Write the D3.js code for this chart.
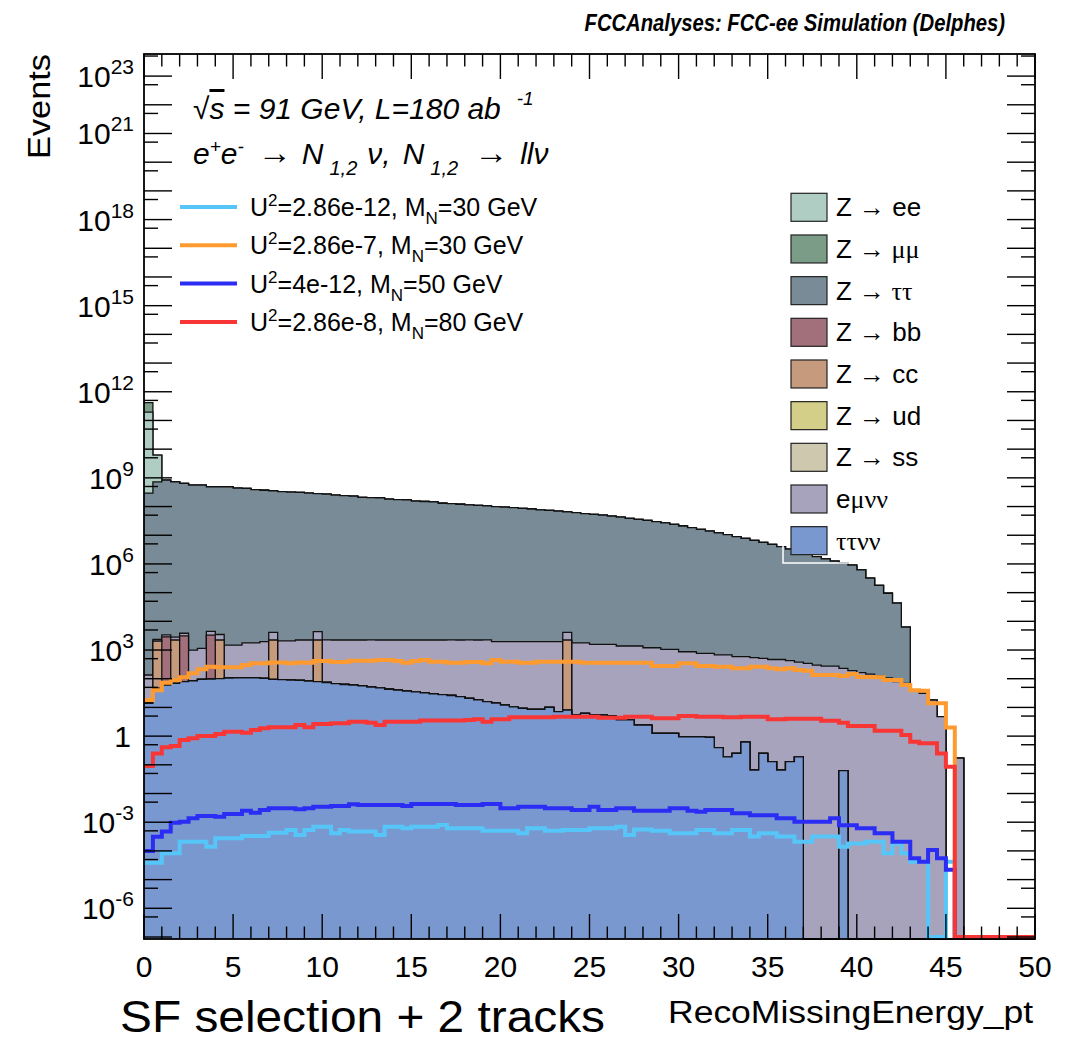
<!DOCTYPE html>
<html>
<head>
<meta charset="utf-8">
<script src="https://cdn.jsdelivr.net/npm/d3@7"></script>
<style>
  body { margin: 0; background: #fff; }
  text { font-family: "Liberation Sans", Arial, Helvetica, sans-serif; fill: #000; }
</style>
</head>
<body>
<svg id="chart" width="1076" height="1044"></svg>
<script>
// ---- data: 100 bins of 0.5 GeV in RecoMissingEnergy_pt, events per bin ----
const binWidth = 0.5;
const nBins = 100;

const ttvv = [
  14, 46, 60, 69, 79, 85, 95, 98, 101, 105,
  108, 108, 108, 103, 95, 93, 90, 87, 83, 79,
  74, 68, 63, 60, 56, 51, 48, 43, 40, 37,
  35, 32.5, 30, 28, 26, 23.7, 20.8, 18.2, 15.8, 14.2,
  12.1, 10.5, 9.3, 8.6, 8.6, 10.0, 7.1, 8.1, 5.4, 6.2,
  5.4, 5.4, 5.0, 3.7, 3.7, 2.4, 2.4, 1.25, 1.25, 1.25,
  0.95, 0.95, 0.95, 0.9, 0.4, 0.19, 0.25, 0.62, 0.066, 0.25,
  0.13, 0.066, 0.13, 0.19, 0, 0, 0, 0, 0.063, 0,
  0, 0, 0, 0, 0, 0, 0, 0, 0, 0,
  0, 0, 0, 0, 0, 0, 0, 0, 0, 0
];

const emvv = [
  121, 300, 500, 600, 750, 915, 1050, 1150, 1250, 1375,
  1370, 1670, 1670, 1850, 1900, 2000, 2000, 2150, 2150, 2150,
  2170, 2170, 2175, 2180, 2180, 2190, 2190, 2195, 2200, 2200,
  2205, 2205, 2210, 2210, 2215, 2215, 2220, 2220, 2225, 1940,
  1940, 1940, 1940, 1940, 1940, 1940, 1945, 1900, 1775, 1775,
  1580, 1580, 1580, 1377, 1377, 1377, 1200, 1200, 1050, 1050,
  870, 870, 767, 767, 674, 674, 590, 590, 540, 513,
  468, 468, 424, 380, 345, 300, 275, 275, 230, 190,
  162, 145, 124, 106, 79, 69, 40, 31, 18, 4.8,
  0, 0.17, 0, 0, 0, 0, 0, 0, 0, 0
];

const ztautau = [
  2.95e8, 7.2e8, 8.3e8, 7.3e8, 6.4e8, 5.6e8, 5.6e8, 4.9e8, 4.9e8, 4.9e8,
  4.4e8, 4.3e8, 3.9e8, 3.7e8, 3.5e8, 3.3e8, 3.2e8, 3.1e8, 2.95e8, 2.8e8,
  2.7e8, 2.5e8, 2.4e8, 2.3e8, 2.1e8, 2.05e8, 2.0e8, 1.8e8, 1.75e8, 1.7e8,
  1.55e8, 1.5e8, 1.45e8, 1.3e8, 1.27e8, 1.2e8, 1.15e8, 1.1e8, 1.05e8, 1.0e8,
  9.5e7, 9.1e7, 8.6e7, 8.2e7, 7.7e7, 7.3e7, 6.9e7, 6.5e7, 6.1e7, 5.7e7,
  5.3e7, 5.0e7, 4.6e7, 4.3e7, 3.9e7, 3.6e7, 3.3e7, 3.0e7, 2.7e7, 2.4e7,
  2.1e7, 1.85e7, 1.6e7, 1.4e7, 1.2e7, 1.05e7, 9.0e6, 7.8e6, 6.6e6, 5.6e6,
  4.8e6, 4.0e6, 3.3e6, 2.7e6, 2.2e6, 1.8e6, 1.5e6, 1.25e6, 1.1e6, 9.1e5,
  6.2e5, 3.2e5, 1.8e5, 9.5e4, 4.3e4, 6.2e3, 0, 0, 0, 0,
  0, 0, 0, 0, 0, 0, 0, 0, 0, 0
];

// sparse backgrounds: bin index and content
const zeeBins = [0, 1];
const zeeVals = [1.95e11, 5.5e9];
const zmumuBins = [0];
const zmumuVals = [2.2e11];
const zbbBins = [2, 4, 7];
const zbbVals = [2830, 3010, 3210];
const zccBins = [1, 3, 8, 14, 19, 47];
const zccVals = [1990, 2160, 2130, 2135, 2150, 2220];
const zudBins = [];
const zudVals = [];
const zssBins = [];
const zssVals = [];

// signals
const sigA = [ // U2=2.86e-12, MN=30
  3.9e-5, 3.9e-5, 8.3e-5, 8.3e-5, 2.1e-4, 2.1e-4, 2.1e-4, 1.4e-4, 2.75e-4, 2.75e-4,
  2.75e-4, 3.3e-4, 3.3e-4, 3.3e-4, 4.3e-4, 4.3e-4, 5.3e-4, 3.6e-4, 5.3e-4, 6.9e-4,
  6.9e-4, 4.1e-4, 5.3e-4, 4.7e-4, 4.7e-4, 4.7e-4, 3.6e-4, 6.9e-4, 6.9e-4, 6.2e-4,
  6.9e-4, 6.9e-4, 6.9e-4, 8.0e-4, 6.2e-4, 6.2e-4, 6.2e-4, 6.2e-4, 5.0e-4, 5.0e-4,
  5.0e-4, 5.0e-4, 4.1e-4, 6.2e-4, 6.2e-4, 5.0e-4, 5.0e-4, 5.3e-4, 5.3e-4, 5.3e-4,
  6.2e-4, 6.2e-4, 6.2e-4, 6.9e-4, 3.6e-4, 5.6e-4, 5.6e-4, 5.0e-4, 5.0e-4, 4.1e-4,
  4.1e-4, 4.1e-4, 5.3e-4, 5.3e-4, 4.1e-4, 4.1e-4, 5.3e-4, 5.3e-4, 3.2e-4, 4.1e-4,
  4.1e-4, 3.2e-4, 3.2e-4, 2.1e-4, 2.1e-4, 3.2e-4, 3.2e-4, 3.2e-4, 1.4e-4, 1.8e-4,
  1.8e-4, 2.1e-4, 2.1e-4, 8.3e-5, 1.8e-4, 8.3e-5, 4.2e-5, 4.2e-5, 0, 0,
  4.2e-5, 0, 0, 0, 0, 0, 0, 0, 0, 0
];
const sigB = [ // U2=2.86e-7, MN=30
  18, 40, 72, 90, 112, 155, 213, 263, 250, 250,
  250, 300, 345, 345, 370, 370, 345, 370, 360, 415,
  415, 380, 380, 425, 425, 425, 450, 450, 415, 360,
  415, 450, 390, 390, 360, 360, 380, 380, 345, 450,
  390, 390, 360, 360, 390, 390, 390, 390, 390, 360,
  360, 360, 360, 360, 360, 360, 360, 275, 275, 275,
  345, 345, 275, 275, 263, 263, 230, 230, 263, 263,
  230, 213, 230, 200, 190, 135, 135, 135, 124, 145,
  115, 115, 112, 90, 90, 60, 40, 38, 14, 14,
  2.0, 0, 0, 0, 0, 0, 0, 0, 0, 0
];
const sigC = [ // U2=4e-12, MN=50
  1.0e-4, 3.1e-4, 4.7e-4, 9.6e-4, 1.04e-3, 1.37e-3, 1.65e-3, 1.65e-3, 1.56e-3, 1.94e-3,
  1.94e-3, 2.5e-3, 2.14e-3, 2.66e-3, 3.05e-3, 3.05e-3, 3.05e-3, 2.8e-3, 3.05e-3, 3.46e-3,
  3.46e-3, 3.67e-3, 3.67e-3, 4.2e-3, 3.98e-3, 3.98e-3, 3.98e-3, 3.98e-3, 3.98e-3, 3.67e-3,
  4.3e-3, 4.3e-3, 4.3e-3, 4.3e-3, 4.3e-3, 4.0e-3, 4.0e-3, 4.0e-3, 4.3e-3, 4.3e-3,
  3.05e-3, 3.05e-3, 3.46e-3, 3.46e-3, 3.46e-3, 3.05e-3, 3.05e-3, 3.05e-3, 2.66e-3, 2.66e-3,
  3.46e-3, 2.66e-3, 2.66e-3, 3.05e-3, 3.05e-3, 2.5e-3, 2.5e-3, 2.5e-3, 2.5e-3, 3.05e-3,
  3.05e-3, 2.5e-3, 2.3e-3, 2.66e-3, 2.66e-3, 2.66e-3, 2.05e-3, 2.05e-3, 1.75e-3, 1.75e-3,
  1.75e-3, 1.37e-3, 1.37e-3, 1.04e-3, 1.04e-3, 1.04e-3, 1.04e-3, 1.37e-3, 7.9e-4, 7.9e-4,
  6.2e-4, 6.2e-4, 4.1e-4, 4.1e-4, 2.1e-4, 2.1e-4, 5.5e-5, 4.2e-5, 1.07e-4, 5.5e-5,
  2.2e-5, 0, 0, 0, 0, 0, 0, 0, 0, 0
];
const sigD = [ // U2=2.86e-8, MN=80
  0.091, 0.25, 0.41, 0.45, 0.73, 0.84, 1.0, 1.0, 1.18, 1.42,
  1.42, 1.31, 1.63, 1.87, 2.03, 2.03, 2.03, 2.44, 2.03, 2.64,
  2.64, 2.79, 2.79, 3.17, 3.17, 2.9, 2.44, 3.17, 3.17, 3.17,
  3.17, 3.5, 3.5, 3.5, 3.5, 3.5, 3.64, 3.9, 3.17, 3.9,
  3.9, 4.5, 4.5, 4.5, 4.5, 4.5, 4.7, 4.7, 4.7, 4.7,
  4.7, 4.4, 4.4, 4.4, 4.7, 4.7, 4.7, 4.2, 4.2, 4.2,
  5.0, 5.0, 4.7, 4.7, 4.7, 4.5, 4.5, 4.7, 4.7, 4.7,
  3.85, 3.85, 4.0, 4.0, 4.0, 4.0, 3.44, 3.44, 2.93, 2.25,
  2.25, 2.25, 1.54, 1.54, 1.54, 1.1, 0.64, 0.56, 0.56, 0.25,
  0.086, 0, 0, 0, 0, 0, 0, 0, 0, 0
];

const xTicks = [0, 5, 10, 15, 20, 25, 30, 35, 40, 45, 50];
const yLabelExps = [-6, -3, 0, 3, 6, 9, 12, 15, 18, 21, 23];

// ---- layout ----
const svg = d3.select("#chart");
const X0 = 144, X1 = 1035, Y0 = 54, Y1 = 939;
const x = d3.scaleLinear().domain([0, 50]).range([X0, X1]);
const y = d3.scaleLog().domain([Math.pow(10, -7.07), Math.pow(10, 23.77)]).range([Y1, Y0]).clamp(true);
const yPos = v => (v > 0 ? y(v) : Y1);

function expand(bins, vals) {
  const out = new Array(nBins).fill(0);
  bins.forEach((b, i) => { out[b] = vals[i]; });
  return out;
}
const zee = expand(zeeBins, zeeVals);
const zmumu = expand(zmumuBins, zmumuVals);
const zbb = expand(zbbBins, zbbVals);
const zcc = expand(zccBins, zccVals);
const zud = expand(zudBins, zudVals);
const zss = expand(zssBins, zssVals);

const series = { ttvv, zss, zud, zcc, zbb, emvv, ztautau, zee, zmumu };
const colors = {
  zee: "#afcdc2", zmumu: "#7b9c87", ztautau: "#788b96", zbb: "#a2707a",
  zcc: "#c69a7c", zud: "#d3cf88", zss: "#cec9ae", emvv: "#a8a3bc", ttvv: "#7a98d0"
};
const stackOrder = ["ttvv", "zss", "zud", "zcc", "zbb", "emvv", "ztautau", "zee", "zmumu"];

const rows = d3.range(nBins).map(i => {
  const r = {};
  stackOrder.forEach(k => { r[k] = series[k][i]; });
  return r;
});
const stacked = d3.stack().keys(stackOrder)(rows);

function stepPoints(vals) {
  const pts = vals.map((v, i) => ({ x: i * binWidth, v }));
  pts.push({ x: nBins * binWidth, v: vals[nBins - 1] });
  return pts;
}

const area = d3.area().curve(d3.curveStepAfter)
  .x(d => x(d.x)).y0(Y1).y1(d => yPos(d.v));
const outline = d3.line().curve(d3.curveStepAfter)
  .x(d => x(d.x)).y(d => yPos(d.v));

// draw top of stack first, lower layers painted over it (ROOT THStack style)
const gStack = svg.append("g");
stacked.slice().reverse().forEach(layer => {
  const pts = stepPoints(layer.map(d => d[1]));
  gStack.append("path").attr("d", area(pts)).attr("fill", colors[layer.key]);
  gStack.append("path").attr("d", outline(pts))
    .attr("fill", "none").attr("stroke", "#111").attr("stroke-width", 1.3);
});

// signal lines
const signals = [
  { vals: sigA, color: "#55c6f7" },
  { vals: sigB, color: "#fd9a30" },
  { vals: sigC, color: "#2b2cf4" },
  { vals: sigD, color: "#f93636" }
];
const sigLine = d3.line().curve(d3.curveStepAfter)
  .x(d => x(d.x)).y(d => (d.v > 0 ? y(d.v) : Y1 - 2));
signals.forEach(s => {
  svg.append("path").attr("d", sigLine(stepPoints(s.vals)))
    .attr("fill", "none").attr("stroke", s.color).attr("stroke-width", 4)
    .attr("stroke-linejoin", "miter");
});

// ---- frame and ticks ----
const gAx = svg.append("g").attr("stroke", "#000").attr("stroke-width", 1.4);
d3.range(0, 51, 1).forEach(v => {
  const len = v % 5 === 0 ? 25 : 12.5;
  const px = x(v);
  gAx.append("line").attr("x1", px).attr("x2", px).attr("y1", Y1).attr("y2", Y1 - len);
  gAx.append("line").attr("x1", px).attr("x2", px).attr("y1", Y0).attr("y2", Y0 + len);
});
d3.range(-8, 24).forEach(n => {
  [[Math.pow(10, n), 28], [5 * Math.pow(10, n), 14]].forEach(([v, len]) => {
    const lv = Math.log10(v);
    if (lv < -7.07 || lv > 23.77) return;
    const py = y(v);
    gAx.append("line").attr("x1", X0).attr("x2", X0 + len).attr("y1", py).attr("y2", py);
    gAx.append("line").attr("x1", X1).attr("x2", X1 - len).attr("y1", py).attr("y2", py);
  });
});
svg.append("rect").attr("x", X0).attr("y", Y0).attr("width", X1 - X0).attr("height", Y1 - Y0)
  .attr("fill", "none").attr("stroke", "#000").attr("stroke-width", 1.8);

// tick labels
xTicks.forEach(v => {
  svg.append("text").attr("x", x(v)).attr("y", 977).attr("text-anchor", "middle")
    .attr("font-size", 30).text(v);
});

function rich(sel, segs) {
  let shift = 0;
  segs.forEach(s => {
    const want = s.sup ? -s.sup : (s.sub ? s.sub : 0);
    const ts = sel.append("tspan").text(s.t).attr("dy", want - shift);
    shift = want;
    if (s.size) ts.attr("font-size", s.size);
    if (s.serif) ts.attr("font-family", "'Liberation Serif','DejaVu Serif',serif");
    if (s.dx) ts.attr("dx", s.dx);
    if (s.style) ts.attr("style", s.style);
  });
  return sel;
}

yLabelExps.forEach(n => {
  const py = y(Math.pow(10, n));
  const t = svg.append("text").attr("x", 134).attr("y", py + 11)
    .attr("text-anchor", "end").attr("font-size", 30);
  if (n === 0) { t.attr("x", 131).text("1"); return; }
  rich(t, [{ t: "10" }, { t: String(n), sup: 13, size: 21 }]);
});

// axis titles
svg.append("text").attr("transform", "translate(50,54) rotate(-90)")
  .attr("text-anchor", "end").attr("font-size", 31)
  .attr("textLength", 105).attr("lengthAdjust", "spacingAndGlyphs").text("Events");
svg.append("text").attr("x", 668).attr("y", 1023)
  .attr("font-size", 31).attr("textLength", 365).attr("lengthAdjust", "spacingAndGlyphs")
  .text("RecoMissingEnergy_pt");
svg.append("text").attr("x", 120).attr("y", 1032)
  .attr("font-size", 44).attr("textLength", 485).attr("lengthAdjust", "spacingAndGlyphs")
  .text("SF selection + 2 tracks");

// title (narrow ROOT rendering)
svg.append("text").attr("transform", "translate(1005,31) scale(0.88,1)")
  .attr("font-size", 23).attr("text-anchor", "end")
  .attr("font-weight", "bold").attr("font-style", "italic")
  .text("FCCAnalyses: FCC-ee Simulation (Delphes)");

// physics text
const t1 = svg.append("text").attr("x", 193).attr("y", 119).attr("font-size", 30)
  .attr("font-style", "italic");
rich(t1, [
  { t: "\u221A" }, { t: "s", style: "text-decoration: overline" },
  { t: " = 91 GeV, L=180 ab" }, { t: "-1", sup: 14, size: 19, dx: 16 }
]);
const t2 = svg.append("text").attr("x", 193).attr("y", 164).attr("font-size", 30)
  .attr("font-style", "italic");
rich(t2, [
  { t: "e" }, { t: "+", sup: 11, size: 19 }, { t: "e" }, { t: "-", sup: 11, size: 19 },
  { t: "\u2192", dx: 14, size: 34 }, { t: "N", dx: 10 }, { t: "1,2", sub: 11, size: 20, dx: 6 },
  { t: "\u03BD,", dx: 10 }, { t: "N", dx: 12 }, { t: "1,2", sub: 11, size: 20, dx: 6 },
  { t: "\u2192", dx: 16, size: 34 }, { t: "ll\u03BD", dx: 12 }
]);

// signal legend
const sigLegend = [
  { u: "2.86e-12", m: "30" },
  { u: "2.86e-7", m: "30" },
  { u: "4e-12", m: "50" },
  { u: "2.86e-8", m: "80" }
];
sigLegend.forEach((d, i) => {
  const cy = 207 + i * 38.3;
  svg.append("line").attr("x1", 180).attr("x2", 237).attr("y1", cy).attr("y2", cy)
    .attr("stroke", signals[i].color).attr("stroke-width", 4);
  const t = svg.append("text").attr("x", 250).attr("y", cy + 9).attr("font-size", 25);
  rich(t, [
    { t: "U" }, { t: "2", sup: 10, size: 17 }, { t: "=" + d.u + ", M" },
    { t: "N", sub: 8, size: 17 }, { t: "=" + d.m + " GeV" }
  ]);
});

// background legend
const bkgLegend = [
  { key: "zee", segs: [{ t: "Z " }, { t: "\u2192", serif: true }, { t: " ee" }] },
  { key: "zmumu", segs: [{ t: "Z " }, { t: "\u2192", serif: true }, { t: " \u03BC\u03BC", serif: true }] },
  { key: "ztautau", segs: [{ t: "Z " }, { t: "\u2192", serif: true }, { t: " \u03C4\u03C4", serif: true }] },
  { key: "zbb", segs: [{ t: "Z " }, { t: "\u2192", serif: true }, { t: " bb" }] },
  { key: "zcc", segs: [{ t: "Z " }, { t: "\u2192", serif: true }, { t: " cc" }] },
  { key: "zud", segs: [{ t: "Z " }, { t: "\u2192", serif: true }, { t: " ud" }] },
  { key: "zss", segs: [{ t: "Z " }, { t: "\u2192", serif: true }, { t: " ss" }] },
  { key: "emvv", segs: [{ t: "e" }, { t: "\u03BC\u03BD\u03BD", serif: true }] },
  { key: "ttvv", segs: [{ t: "\u03C4\u03C4\u03BD\u03BD", serif: true }] }
];
svg.append("rect").attr("x", 783).attr("y", 182).attr("width", 217).attr("height", 381)
  .attr("fill", "none").attr("stroke", "#fff").attr("stroke-width", 1.5);
bkgLegend.forEach((d, i) => {
  const top = 193.3 + i * 41.67;
  svg.append("rect").attr("x", 791).attr("y", top).attr("width", 36).attr("height", 28)
    .attr("fill", colors[d.key]).attr("stroke", "#222").attr("stroke-width", 1.2);
  const t = svg.append("text").attr("x", 836).attr("y", top + 23).attr("font-size", 26);
  rich(t, d.segs);
});
</script>
</body>
</html>
